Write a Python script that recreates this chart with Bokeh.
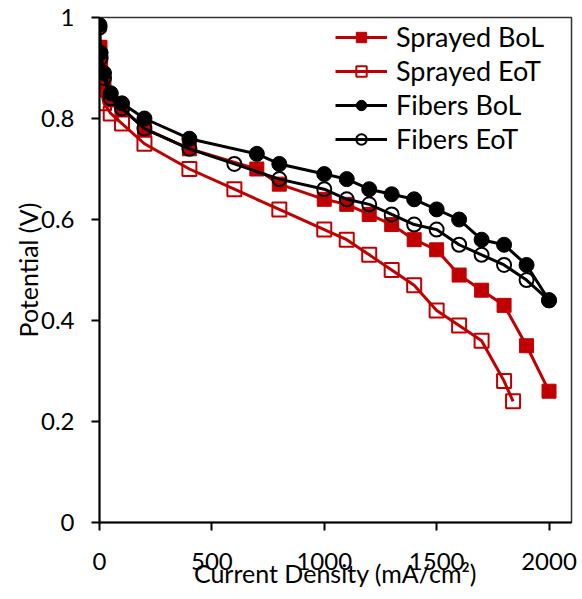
from bokeh.plotting import figure
from bokeh.models import Range1d, FixedTicker, Legend, LegendItem
from bokeh.embed import file_html
from bokeh.resources import INLINE

# ---- data ----
sprayed_bol_x = [0, 5, 20, 50, 100, 200, 400, 700, 800, 1000, 1100, 1200, 1300, 1400, 1500, 1600, 1700, 1800, 1900, 2000]
sprayed_bol_y = [0.94, 0.91, 0.87, 0.84, 0.82, 0.78, 0.74, 0.70, 0.67, 0.64, 0.63, 0.61, 0.59, 0.56, 0.54, 0.49, 0.46, 0.43, 0.35, 0.26]

sprayed_eot_x = [0, 5, 20, 50, 100, 200, 400, 600, 800, 1000, 1100, 1200, 1300, 1400, 1500, 1600, 1700, 1800, 1840]
sprayed_eot_y = [0.94, 0.86, 0.83, 0.81, 0.79, 0.75, 0.70, 0.66, 0.62, 0.58, 0.56, 0.53, 0.50, 0.47, 0.42, 0.39, 0.36, 0.28, 0.24]

fibers_bol_x = [0, 5, 20, 50, 100, 200, 400, 700, 800, 1000, 1100, 1200, 1300, 1400, 1500, 1600, 1700, 1800, 1900, 2000]
fibers_bol_y = [0.985, 0.93, 0.89, 0.85, 0.83, 0.80, 0.76, 0.73, 0.71, 0.69, 0.68, 0.66, 0.65, 0.64, 0.62, 0.60, 0.56, 0.55, 0.51, 0.44]

fibers_eot_x = [0, 5, 20, 50, 100, 200, 400, 600, 800, 1000, 1100, 1200, 1300, 1400, 1500, 1600, 1700, 1800, 1900, 2000]
fibers_eot_y = [0.98, 0.92, 0.88, 0.84, 0.82, 0.78, 0.74, 0.71, 0.68, 0.66, 0.64, 0.63, 0.61, 0.59, 0.58, 0.55, 0.53, 0.51, 0.48, 0.44]

x_ticks = [0, 500, 1000, 1500, 2000]
y_ticks = [0, 0.2, 0.4, 0.6, 0.8, 1.0]
y_tick_labels = ["0", "0.2", "0.4", "0.6", "0.8", "1"]

RED = "#C00000"
BLACK = "#000000"
FONT = "Lato"

p = figure(width=582, height=599, output_backend="svg", toolbar_location=None,
           x_range=Range1d(0, 2100), y_range=Range1d(0, 1.0),
           min_border_left=99, min_border_right=11, min_border_top=17, min_border_bottom=77)

p.xgrid.visible = False
p.ygrid.visible = False
p.outline_line_color = "#333333"
p.outline_line_width = 1.5
p.background_fill_color = "white"
p.border_fill_color = "white"

# axes
p.xaxis.ticker = FixedTicker(ticks=x_ticks)
p.yaxis.ticker = FixedTicker(ticks=y_ticks)
p.yaxis.major_label_overrides = {t: l for t, l in zip(y_ticks, y_tick_labels)}
for ax in (p.xaxis, p.yaxis):
    ax.axis_line_width = 2
    ax.axis_line_color = BLACK
    ax.major_tick_line_width = 2
    ax.major_tick_line_color = BLACK
    ax.major_tick_in = 0
    ax.major_tick_out = 8
    ax.minor_tick_line_color = None
    ax.major_label_text_font = FONT
    ax.major_label_text_font_size = "24px"
    ax.major_label_text_color = BLACK
    ax.axis_label_text_font = FONT
    ax.axis_label_text_font_size = "25px"
    ax.axis_label_text_font_style = "normal"
    ax.axis_label_text_color = BLACK

p.xaxis.axis_label = "Current Density (mA/cm\u00b2)"
p.yaxis.axis_label = "Potential (V)"
p.xaxis.major_label_standoff = 22
p.xaxis.axis_label_standoff = -15
p.yaxis.major_label_standoff = 17
p.yaxis.axis_label_standoff = -5

# series
r1l = p.line(sprayed_bol_x, sprayed_bol_y, line_color=RED, line_width=3)
r1m = p.scatter(sprayed_bol_x, sprayed_bol_y, marker="square", size=14, fill_color=RED, line_color=RED)

r2l = p.line(sprayed_eot_x, sprayed_eot_y, line_color=RED, line_width=3)
r2m = p.scatter(sprayed_eot_x, sprayed_eot_y, marker="square", size=14, fill_color="white", fill_alpha=0, line_color=RED, line_width=2)

r3l = p.line(fibers_bol_x, fibers_bol_y, line_color=BLACK, line_width=3)
r3m = p.scatter(fibers_bol_x, fibers_bol_y, marker="circle", size=15, fill_color=BLACK, line_color=BLACK)

r4l = p.line(fibers_eot_x, fibers_eot_y, line_color=BLACK, line_width=3)
r4m = p.scatter(fibers_eot_x, fibers_eot_y, marker="circle", size=14, fill_color="white", fill_alpha=0, line_color=BLACK, line_width=2)

legend = Legend(items=[
    LegendItem(label="Sprayed BoL", renderers=[r1l, r1m]),
    LegendItem(label="Sprayed EoT", renderers=[r2l, r2m]),
    LegendItem(label="Fibers BoL", renderers=[r3l, r3m]),
    LegendItem(label="Fibers EoT", renderers=[r4l, r4m]),
], location=(236, 367))
legend.label_text_font = FONT
legend.label_text_font_size = "27px"
legend.label_text_color = BLACK
legend.border_line_color = None
legend.background_fill_alpha = 0
legend.glyph_width = 52
legend.glyph_height = 26
legend.label_height = 26
legend.spacing = 1
legend.label_standoff = 9
legend.padding = 4
legend.margin = 0
p.add_layout(legend, "center")

open("out.html", "w").write(file_html(p, INLINE))
